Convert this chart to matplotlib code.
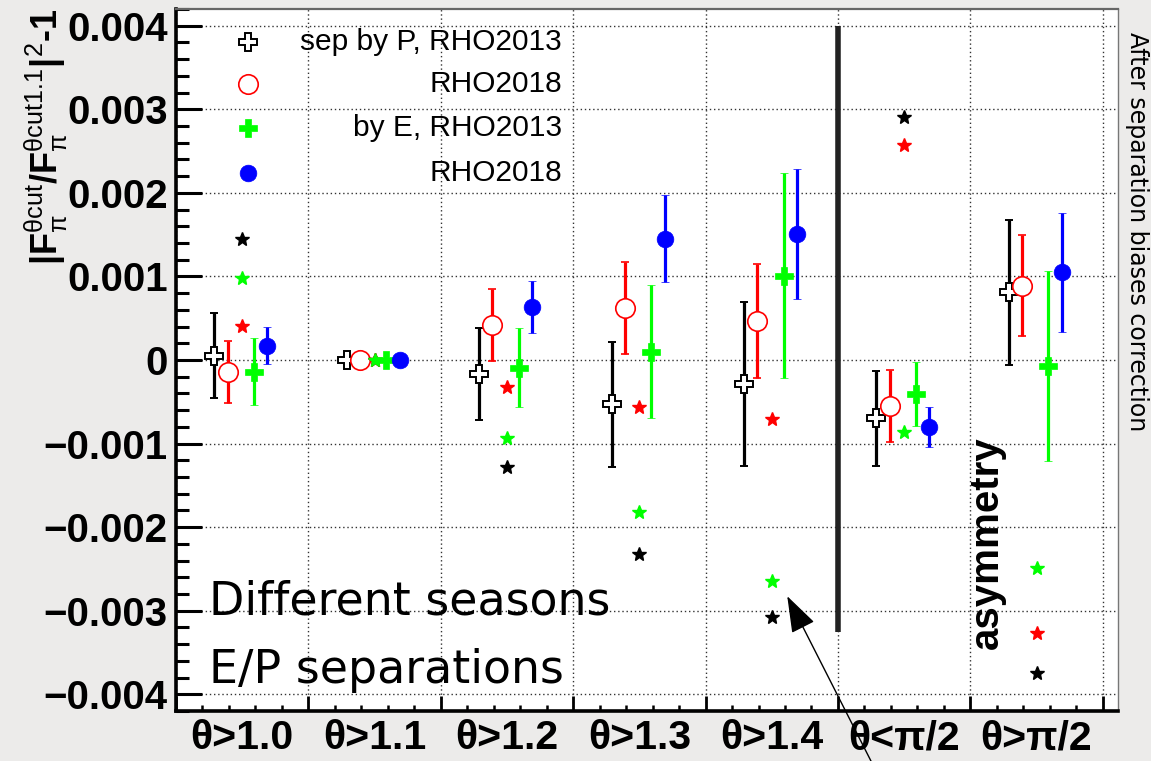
import numpy as np
import matplotlib.pyplot as plt
from matplotlib.ticker import MultipleLocator

plt.rcParams['font.family'] = 'Liberation Sans'
plt.rcParams['mathtext.fontset'] = 'custom'
plt.rcParams['mathtext.rm'] = 'Liberation Sans'
plt.rcParams['mathtext.it'] = 'Liberation Sans'
plt.rcParams['mathtext.bf'] = 'Liberation Sans:bold'

# theta cut bins
cuts = ['θ>1.0', 'θ>1.1', 'θ>1.2', 'θ>1.3', 'θ>1.4', 'θ<π/2', 'θ>π/2']

# separation by P
p13_val = [0.00005, 0.0, -0.00017, -0.00053, -0.00029, -0.00070, 0.00081]
p13_err = [0.00051, 0.0, 0.00055, 0.00075, 0.00098, 0.00057, 0.00087]
p18_val = [-0.00014, 0.0, 0.00042, 0.00062, 0.00047, -0.00055, 0.00089]
p18_err = [0.00037, 0.0, 0.00043, 0.00055, 0.00068, 0.00043, 0.00060]
# separation by E
e13_val = [-0.00014, 0.0, -0.00009, 0.00010, 0.00101, -0.00041, -0.00007]
e13_err = [0.00040, 0.0, 0.00047, 0.00080, 0.00123, 0.00038, 0.00114]
e18_val = [0.00017, 0.0, 0.00063, 0.00145, 0.00151, -0.00080, 0.00105]
e18_err = [0.00022, 0.0, 0.00031, 0.00052, 0.00078, 0.00024, 0.00071]

# asymmetry points (stars)
asym_p13 = [0.00145, 0.0, -0.00128, -0.00232, -0.00307, 0.00291, -0.00375]
asym_p18 = [0.00041, 0.0, -0.00032, -0.00056, -0.00071, 0.00257, -0.00327]
asym_e13 = [0.00098, 0.0, -0.00093, -0.00182, -0.00264, -0.00086, -0.00249]

yticks = [-0.004, -0.003, -0.002, -0.001, 0.0, 0.001, 0.002, 0.003, 0.004]
ytick_labels = ['\u22120.004', '\u22120.003', '\u22120.002', '\u22120.001', '0',
                '0.001', '0.002', '0.003', '0.004']

centers = np.arange(len(cuts)) + 0.5

fig = plt.figure(figsize=(11.51, 7.61), dpi=100, facecolor='#ecebea')
ax = fig.add_axes([0.1529, 0.0657, 0.8184, 0.9225])
ax.set_facecolor('white')

series = [
    (p13_val, p13_err, -0.21, 'black', dict(marker='P', ms=13.5, mfc='white', mec='black', mew=1.4)),
    (p18_val, p18_err, -0.11, '#ff0000', dict(marker='o', ms=14, mfc='white', mec='#ff0000', mew=1.2)),
    (e13_val, e13_err, 0.09, '#00ff00', dict(marker='P', ms=13, mfc='#00ff00', mec='#00ff00', mew=0.5)),
    (e18_val, e18_err, 0.19, '#0000ff', dict(marker='o', ms=12, mfc='#0000ff', mec='#0000ff', mew=0.5)),
]
for i, (vals, errs, off, col, mk) in enumerate(series):
    ax.errorbar(centers + off, vals, yerr=errs, linestyle='none', color=col,
                ecolor=col, elinewidth=2.3, capsize=3, capthick=2.5, zorder=3 + i, **mk)
    if i == 1:
        # stars sit at the bin centre, between the P and E groups
        for stars, scol in [(asym_p13, 'black'), (asym_p18, '#ff0000'), (asym_e13, '#00ff00')]:
            ax.plot(centers, stars, linestyle='none', marker='*', ms=10.5,
                    color=scol, mec=scol, zorder=4.5)

# separator between the theta>x cuts and the hemisphere cuts
ax.vlines(5, -0.00325, 0.004, color='#222222', lw=4, zorder=2.5)

ax.set_xlim(0, 7.115)
ax.set_ylim(-0.0042, 0.0042)
ax.set_yticks(yticks, ytick_labels, fontweight='bold')
ax.yaxis.set_minor_locator(MultipleLocator(0.0002))
ax.set_xticks(np.arange(0, 8))
ax.xaxis.set_minor_locator(MultipleLocator(0.2))
ax.tick_params(axis='x', which='both', labelbottom=False)

ax.tick_params(axis='y', which='major', direction='in', length=19, width=2.2,
               labelsize=29, pad=6)
ax.tick_params(axis='y', which='minor', direction='in', length=9.5, width=2.2)
ax.tick_params(axis='x', which='major', direction='in', length=11, width=2)
ax.tick_params(axis='x', which='minor', direction='in', length=4, width=1.8)

ax.grid(True, which='major', linestyle=(0, (1, 2)), color='#333333', lw=1.0)
ax.set_axisbelow(True)

for side in ['left', 'bottom']:
    ax.spines[side].set_linewidth(2.6)
    ax.spines[side].set_color('black')
ax.spines['top'].set_linewidth(1.6)
ax.spines['top'].set_color('#666666')
ax.spines['right'].set_linewidth(1.0)
ax.spines['right'].set_color('#777777')

for c, lab in zip(centers, cuts):
    ax.text(c, -0.012, lab, transform=ax.get_xaxis_transform(), ha='center',
            va='top', fontsize=29.5, fontweight='bold')

ax.set_ylabel(r'$\mathbf{|F}_{\pi}^{\theta \mathrm{cut}}\mathbf{/F}_{\pi}^{\theta \mathrm{cut1.1}}\mathbf{|}^{2}$-1',
              loc='top', fontsize=26, fontweight='bold')
ax.yaxis.set_label_coords(-0.113, 1.0)

# legend drawn by hand: markers on the left, right-aligned text
legend_rows = [
    ('sep by P, RHO2013', series[0][4]),
    ('RHO2018', series[1][4]),
    ('by E, RHO2013', series[2][4]),
    ('RHO2018', series[3][4]),
]
legend_y = [0.9525, 0.893, 0.831, 0.767]
for (txt, mk), ly in zip(legend_rows, legend_y):
    ax.plot([0.0764], [ly], transform=ax.transAxes, linestyle='none', zorder=6, **mk)
    ax.text(0.4095, ly, txt, transform=ax.transAxes, ha='right', va='center',
            fontsize=21.5, zorder=6)

ax.text(6.125, -0.00219, 'asymmetry', rotation=90, ha='center', va='center',
        fontsize=29, fontweight='bold', zorder=6)

ax.text(0.246, -0.00305, 'Different seasons', family='DejaVu Sans', fontsize=33,
        va='baseline', zorder=6)
ax.text(0.246, -0.00387, 'E/P separations', family='DejaVu Sans', fontsize=33,
        va='baseline', zorder=6)

fig.text(0.9875, 0.695, 'After separation biases correction', family='DejaVu Sans',
         fontsize=17, rotation=-90, ha='center', va='center')

ax.annotate('', xy=(4.617, -0.002826), xycoords='data',
            xytext=(0.7567, 0.0), textcoords='figure fraction',
            arrowprops=dict(arrowstyle='-|>,head_length=1.15,head_width=0.4',
                            mutation_scale=20, lw=1.0, color='black',
                            shrinkA=0, shrinkB=0),
            annotation_clip=False, zorder=7)

fig.savefig('out.png', dpi=100, facecolor=fig.get_facecolor())
